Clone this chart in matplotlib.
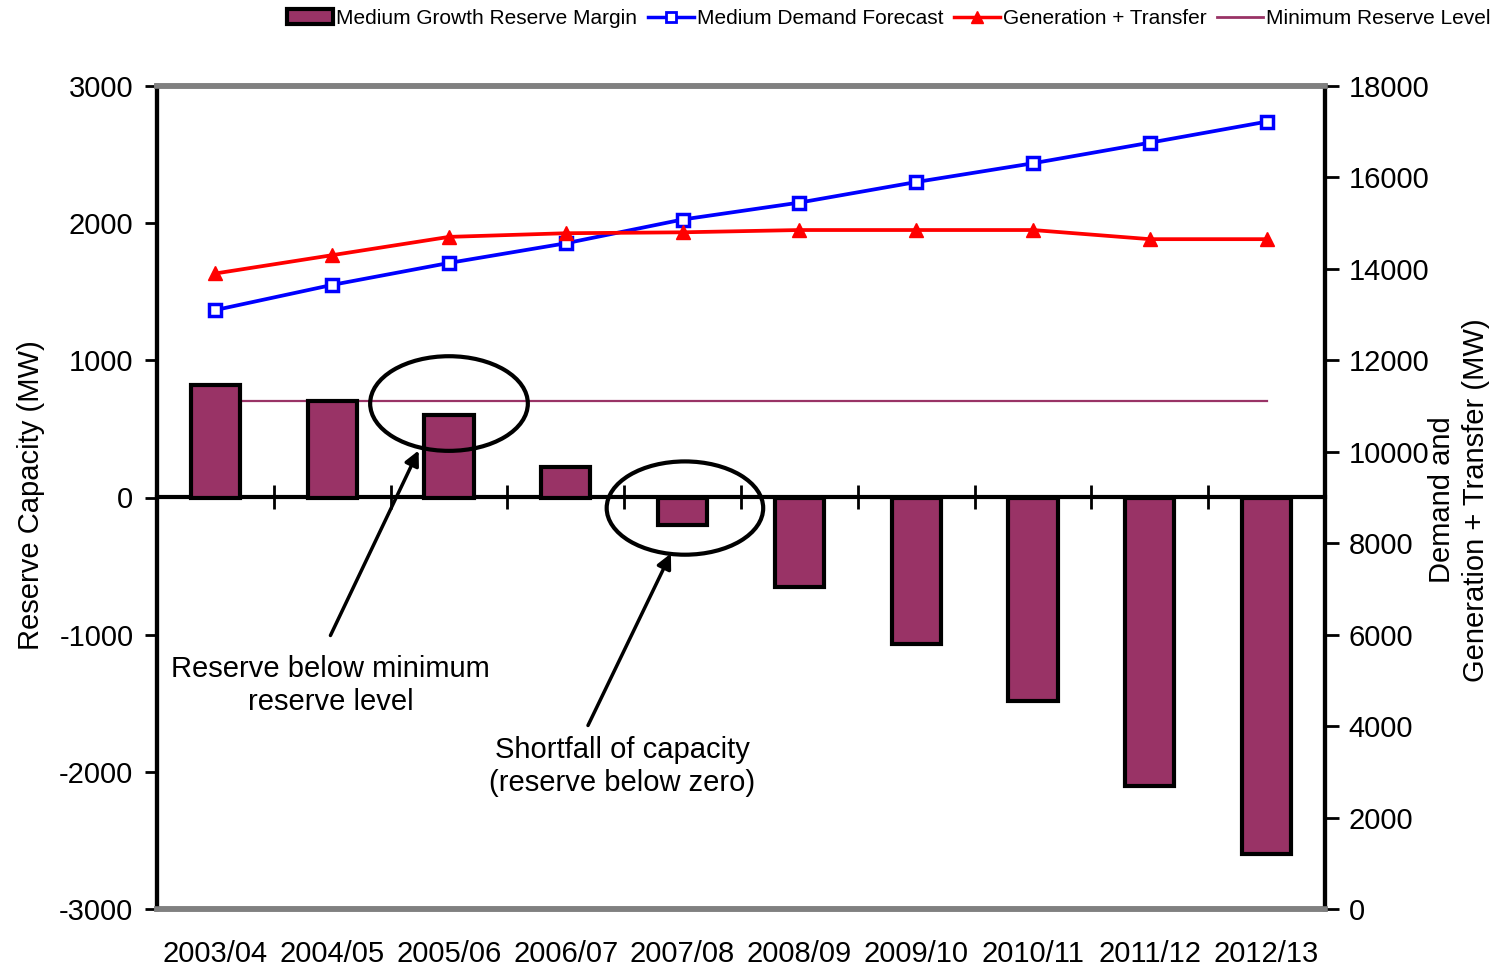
import numpy as np
import matplotlib
matplotlib.use('Agg')
import matplotlib.pyplot as plt
from matplotlib.patches import Ellipse, Patch
from matplotlib.lines import Line2D

plt.rcParams['font.family'] = ['Liberation Sans', 'DejaVu Sans']
plt.rcParams['axes.unicode_minus'] = False

# Data
years = ['2003/04', '2004/05', '2005/06', '2006/07', '2007/08',
         '2008/09', '2009/10', '2010/11', '2011/12', '2012/13']
reserve_margin = [820, 700, 600, 220, -200, -650, -1070, -1480, -2100, -2600]
demand_forecast = [13100, 13650, 14130, 14560, 15080, 15450, 15900, 16310, 16760, 17220]
gen_transfer = [13900, 14300, 14700, 14780, 14800, 14850, 14850, 14850, 14650, 14650]
min_reserve = [700] * 10

plum = '#993366'
x = np.arange(len(years))

fig = plt.figure(figsize=(15.03, 9.67), dpi=100)
ax = fig.add_axes([157 / 1503, 58 / 967, 1168 / 1503, 823 / 967])
ax2 = ax.twinx()

# Bars and minimum reserve line on left axis
ax.plot(x, min_reserve, color=plum, lw=1.6, zorder=1)
ax.bar(x, reserve_margin, width=0.42, color=plum, edgecolor='black',
       linewidth=3, zorder=2)

# Lines on right axis
ax2.plot(x, demand_forecast, color='#0000FF', lw=2.7, marker='s', ms=9,
         mfc='white', mec='#0000FF', mew=2.5)
ax2.plot(x, gen_transfer, color='#FF0000', lw=2.7, marker='^', ms=10,
         mfc='#FF0000', mec='#FF0000')

ax.set_xlim(-0.5, len(years) - 0.5)
ax.set_ylim(-3000, 3000)
ax2.set_ylim(0, 18000)
ax.set_yticks(np.arange(-3000, 3001, 1000))
ax2.set_yticks(np.arange(0, 18001, 2000))

ax.set_xticks(x)
ax.set_xticklabels(years, fontsize=21)
ax.tick_params(axis='x', length=0, pad=22)
ax.tick_params(axis='y', labelsize=21, length=9, width=2, direction='out', pad=8)
ax2.tick_params(axis='y', labelsize=21, length=10, width=2, direction='out', pad=7)

for a in (ax, ax2):
    a.spines['top'].set_color('#808080')
    a.spines['top'].set_linewidth(4)
    a.spines['bottom'].set_color('#808080')
    a.spines['bottom'].set_linewidth(4)
    a.spines['left'].set_color('black')
    a.spines['left'].set_linewidth(3)
    a.spines['right'].set_color('black')
    a.spines['right'].set_linewidth(3)

# Category axis crossing at zero
zero_frac = (0 - ax.get_ylim()[0]) / (ax.get_ylim()[1] - ax.get_ylim()[0])
zax = ax.secondary_xaxis(zero_frac)
zax.set_xticks(np.arange(0.5, len(years) - 1, 1.0))
zax.tick_params(axis='x', direction='inout', length=17, width=2, labelbottom=False,
                labeltop=False, labelsize=0)
zax.spines['bottom'].set_linewidth(3)
zax.spines['bottom'].set_color('black')
zax.spines['top'].set_linewidth(3)
zax.spines['top'].set_color('black')

ax.set_ylabel('Reserve Capacity (MW)', fontsize=21)
ax.yaxis.set_label_coords(-0.096, 0.503)
ax2.set_ylabel('Demand and\nGeneration + Transfer (MW)', fontsize=21, linespacing=1.3)
ax2.yaxis.set_label_coords(1.088, 0.497)

# Annotations
ax.add_patch(Ellipse((2.0, 685), 1.35, 690, fill=False, edgecolor='black', lw=3, zorder=5))
ax.add_patch(Ellipse((4.02, -77), 1.34, 680, fill=False, edgecolor='black', lw=3, zorder=5))

arrow = dict(arrowstyle='-|>', color='black', lw=2.5, mutation_scale=22, shrinkA=0, shrinkB=0)
ax.annotate('', xy=(1.74, 343), xytext=(0.985, -1006), arrowprops=arrow, zorder=5)
ax.annotate('', xy=(3.90, -408), xytext=(3.19, -1662), arrowprops=arrow, zorder=5)
ax.text(0.985, -1370, 'Reserve below minimum\nreserve level', fontsize=21,
        ha='center', va='center', linespacing=1.25)
ax.text(3.485, -1961, 'Shortfall of capacity\n(reserve below zero)', fontsize=21,
        ha='center', va='center', linespacing=1.2)

# Legend
handles = [
    Patch(facecolor=plum, edgecolor='black', linewidth=3),
    Line2D([], [], color='#0000FF', lw=2.5, marker='s', ms=7, mfc='white', mew=2),
    Line2D([], [], color='#FF0000', lw=2.5, marker='^', ms=8),
    Line2D([], [], color=plum, lw=2),
]
labels = ['Medium Growth Reserve Margin', 'Medium Demand Forecast',
          'Generation + Transfer', 'Minimum Reserve Level']
fig.legend(handles, labels, loc='center right', bbox_to_anchor=(0.997, 0.981),
           ncol=4, frameon=False, fontsize=15, handlelength=2.2, handletextpad=0.15,
           columnspacing=0.5, borderaxespad=0)

fig.savefig('out.png', dpi=100)
